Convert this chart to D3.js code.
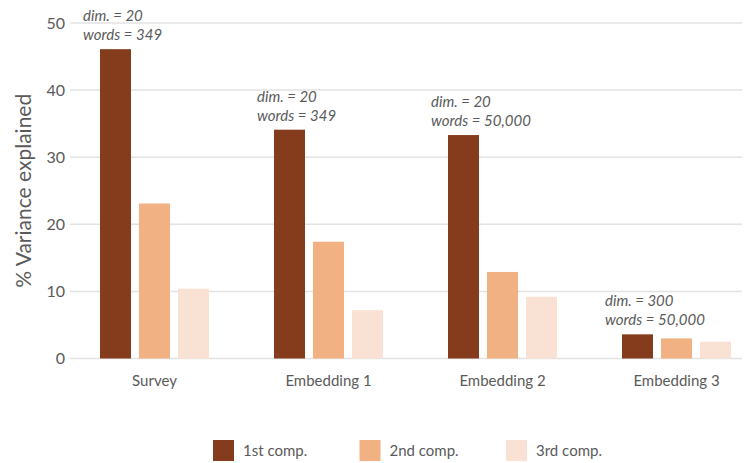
<!DOCTYPE html>
<html><head><meta charset="utf-8">
<script src="https://cdn.jsdelivr.net/npm/d3@7"></script>
<style>body{margin:0;background:#fff}svg{display:block}text{font-family:Lato,"Open Sans",sans-serif}</style>
</head><body><svg id="c" width="756" height="463"></svg>
<script>
const categories = ["Survey", "Embedding 1", "Embedding 2", "Embedding 3"];
const seriesNames = ["1st comp.", "2nd comp.", "3rd comp."];
const comp1 = [46.1, 34.1, 33.3, 3.6];
const comp2 = [23.1, 17.4, 12.9, 3.0];
const comp3 = [10.4, 7.2, 9.2, 2.5];
const annotDim = ["dim. = 20", "dim. = 20", "dim. = 20", "dim. = 300"];
const annotWords = ["words = 349", "words = 349", "words = 50,000", "words = 50,000"];
const yTicks = [0, 10, 20, 30, 40, 50];
const colors = ["#843c1c", "#f2b183", "#f9e1d3"];

const series = [comp1, comp2, comp3];
const svg = d3.select("#c");
const y = d3.scaleLinear().domain([0, 50]).range([358.5, 23]);
const x0 = d3.scaleBand().domain(categories).range([68, 764]);
const x1 = d3.scaleBand().domain(seriesNames).range([32, 141]).paddingInner(8/39);
const textCol = "#5a5a5a";

// gridlines
svg.append("g").selectAll("line").data(yTicks).join("line")
  .attr("x1", 70).attr("x2", 742)
  .attr("y1", d => y(d)).attr("y2", d => y(d))
  .attr("stroke", "#e2e2e2").attr("stroke-width", 1.5);

// y axis
const ya = svg.append("g").attr("transform", "translate(66,0)")
  .call(d3.axisLeft(y).tickValues(yTicks).tickSize(0).tickPadding(0));
ya.select(".domain").remove();
ya.selectAll("text").attr("font-size", 16).attr("fill", textCol).attr("dx", "-1");

svg.append("text")
  .attr("transform", `translate(31,${y(25)}) rotate(-90)`)
  .attr("text-anchor", "middle").attr("font-size", 21).attr("fill", textCol)
  .text("% Variance explained");

// bars
const groups = svg.append("g").selectAll("g").data(categories).join("g")
  .attr("transform", d => `translate(${x0(d)},0)`);
groups.selectAll("rect").data((d, i) => seriesNames.map((s, j) => ({s, j, v: series[j][i]})))
  .join("rect")
  .attr("x", d => x1(d.s)).attr("width", x1.bandwidth())
  .attr("y", d => y(d.v)).attr("height", d => y(0) - y(d.v))
  .attr("fill", d => colors[d.j]);

// x axis labels
const xa = svg.append("g").attr("transform", `translate(0,${y(0)})`)
  .call(d3.axisBottom(x0).tickSize(0).tickPadding(0));
xa.select(".domain").remove();
xa.selectAll(".tick").attr("transform", d => `translate(${x0(d) + x1(seriesNames[1]) + x1.bandwidth()/2},0)`);
xa.selectAll("text").attr("font-size", 15).attr("fill", textCol).attr("y", 27).attr("dy", 0);

// annotations
categories.forEach((c, i) => {
  const ax = x0(c) + x1(seriesNames[0]) - 17;
  const ay = y(comp1[i]) - 9;
  const t = svg.append("text").attr("font-size", 15).attr("font-style", "italic").attr("fill", textCol);
  t.append("tspan").attr("x", ax).attr("y", ay - 19).text(annotDim[i]);
  t.append("tspan").attr("x", ax).attr("y", ay).text(annotWords[i]);
});

// legend
const lg = svg.append("g").selectAll("g").data(seriesNames).join("g")
  .attr("transform", (d, i) => `translate(${213 + i * 146.5},440)`);
lg.append("rect").attr("width", 21).attr("height", 21).attr("fill", (d, i) => colors[i]);
lg.append("text").attr("x", 30).attr("y", 16).attr("font-size", 15).attr("fill", textCol).text(d => d);
</script></body></html>
